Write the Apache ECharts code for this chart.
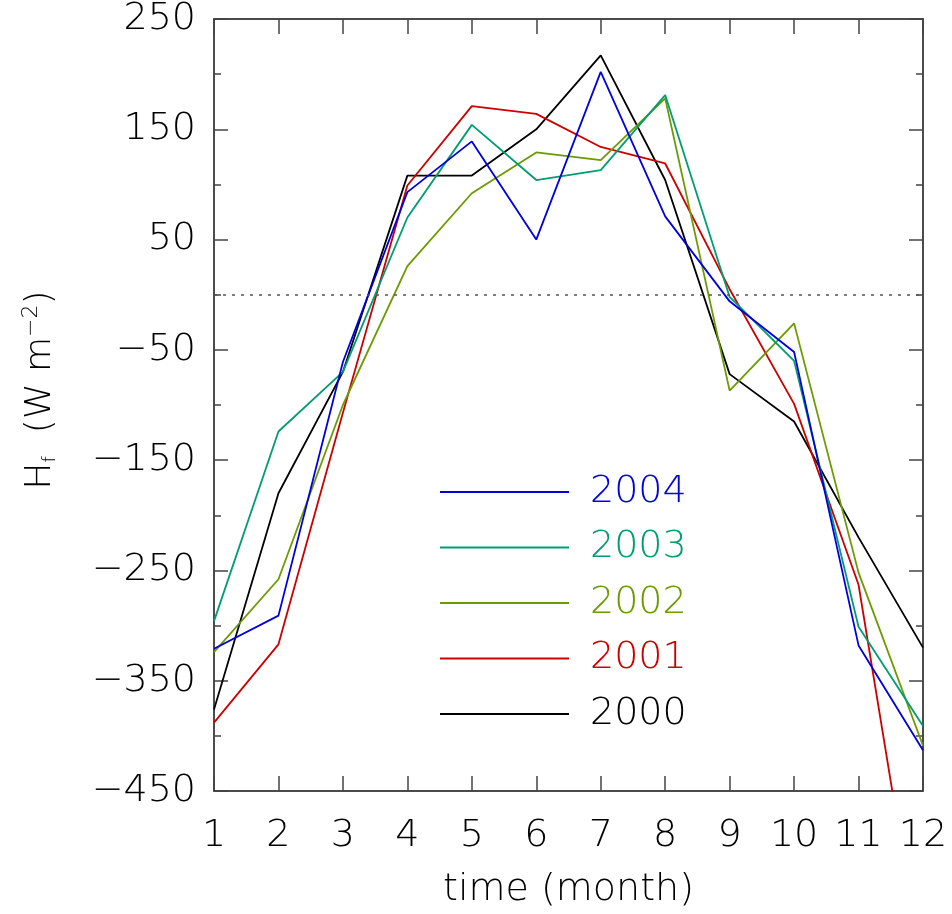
<!DOCTYPE html>
<html>
<head>
<meta charset="utf-8">
<script src="https://cdn.jsdelivr.net/npm/echarts@6/dist/echarts.min.js"></script>
<style>html,body{margin:0;padding:0;background:#fff}#c{width:952px;height:914px}</style>
</head>
<body>
<div id="c"></div>
<script>
const months = [1,2,3,4,5,6,7,8,9,10,11,12];
const y2004 = [-321, -291, -61, 93, 139, 50, 202, 71, -6, -52, -318, -413];
const y2003 = [-296, -124, -70, 70, 154, 104, 113, 181, -2, -60, -301, -391];
const y2002 = [-324, -258, -100, 26, 92, 129, 122, 178, -87, -26, -252, -409];
const y2001 = [-388, -317, -107, 99, 171, 164, 134, 119, 5, -99, -263, -620];
const y2000 = [-376, -180, -70, 108, 108, 150, 217, 104, -72, -115, -220, -320];
const yearNames = ['2004','2003','2002','2001','2000'];
const yearColors = ['#0000dd','#009c72','#6b9b00','#cc0000','#000000'];
const yearData = [y2004, y2003, y2002, y2001, y2000];

const FONT = 'DejaVu Sans';
const FW = 200;
const FS = 38;

const series = [];
for (let i = yearNames.length - 1; i >= 0; i--) {
  const s = {
    name: yearNames[i],
    type: 'line',
    data: months.map((m, k) => [m, yearData[i][k]]),
    showSymbol: false,
    symbol: 'none',
    clip: true,
    lineStyle: { color: yearColors[i], width: 1.8 },
    itemStyle: { color: yearColors[i] },
    z: 3
  };
  if (i === yearNames.length - 1) {
    s.markLine = {
      silent: true,
      symbol: ['none','none'],
      label: { show: false },
      lineStyle: { type: [3,6], color: '#555', width: 1.5 },
      data: [{ yAxis: 0 }]
    };
  }
  series.push(s);
}

const axisCommonX = {
  type: 'value', min: 1, max: 12, interval: 1,
  axisLine: { show: true, onZero: false, lineStyle: { color: '#111', width: 1.5 } },
  axisTick: { show: true, inside: true, length: 15, lineStyle: { color: '#444', width: 1.5 } },
  splitLine: { show: false }
};
const axisCommonY = {
  type: 'value', min: -450, max: 250, interval: 100,
  axisLine: { show: true, onZero: false, lineStyle: { color: '#111', width: 1.5 } },
  axisTick: { show: true, inside: true, length: 14, lineStyle: { color: '#444', width: 1.5 } },
  minorTick: { show: true, splitNumber: 2, length: 7, lineStyle: { color: '#444', width: 1.5 } },
  splitLine: { show: false },
  minorSplitLine: { show: false }
};

const chart = echarts.init(document.getElementById('c'));
chart.setOption({
  animation: false,
  backgroundColor: '#fff',
  grid: { left: 214, right: 29, top: 16, bottom: 123, containLabel: false },
  legend: {
    orient: 'vertical',
    left: 440, top: 473,
    padding: 0,
    itemWidth: 129, itemHeight: 2,
    itemGap: 17.5,
    icon: 'rect',
    selectedMode: false,
    data: yearNames.map((n, i) => ({ name: n, textStyle: { color: yearColors[i] } })),
    textStyle: { fontFamily: FONT, fontWeight: FW, fontSize: FS, lineHeight: 38, padding: [0,0,0,16] }
  },
  xAxis: [
    Object.assign({}, axisCommonX, {
      position: 'bottom',
      name: 'time (month)', nameLocation: 'middle', nameGap: 80,
      nameTextStyle: { fontFamily: FONT, fontWeight: FW, fontSize: FS, color: '#000' },
      axisLabel: { show: true, margin: 26, fontFamily: FONT, fontWeight: FW, fontSize: FS, color: '#000' }
    }),
    Object.assign({}, axisCommonX, {
      position: 'top',
      axisLabel: { show: false }
    })
  ],
  yAxis: [
    Object.assign({}, axisCommonY, {
      position: 'left',
      name: '{b|H}{s|f}{b|  (W m}{u|−2}{b|)}',
      nameLocation: 'middle', nameGap: 152, nameRotate: 90,
      nameTextStyle: {
        color: '#000',
        padding: [0, 0, 0, 30],
        rich: {
          b: { fontFamily: FONT, fontWeight: FW, fontSize: 36, color: '#000' },
          s: { fontFamily: FONT, fontWeight: FW, fontSize: 18, color: '#000', padding: [18,0,0,0] },
          u: { fontFamily: FONT, fontWeight: FW, fontSize: 22, color: '#000', padding: [0,0,20,0] }
        }
      },
      axisLabel: {
        show: true, margin: 18, fontFamily: FONT, fontWeight: FW, fontSize: FS, color: '#000',
        formatter: v => (v < 0 ? '−' + Math.abs(v) : String(v))
      }
    }),
    Object.assign({}, axisCommonY, {
      position: 'right',
      axisLabel: { show: false }
    })
  ],
  series: series
});
</script>
</body>
</html>
